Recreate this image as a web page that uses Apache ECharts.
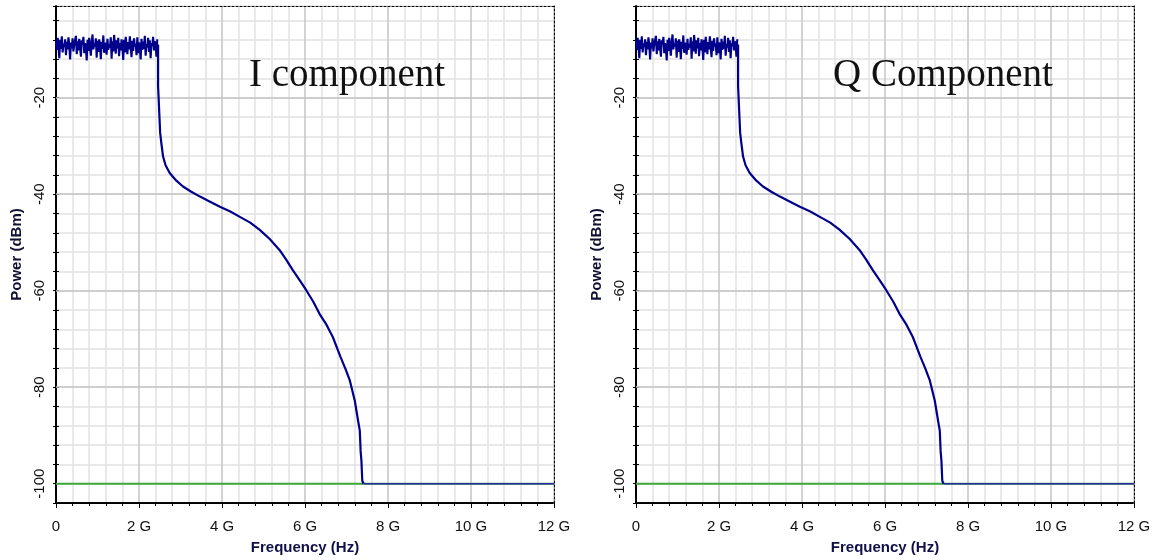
<!DOCTYPE html>
<html>
<head>
<meta charset="utf-8">
<script src="https://cdn.jsdelivr.net/npm/echarts@6/dist/echarts.min.js"></script>
<style>
html,body{margin:0;padding:0;background:#fff;}
#chart{width:1155px;height:560px;}
</style>
</head>
<body>
<div id="chart"></div>
<script>
// ---------- data ----------
const panelTitles = ['I component', 'Q Component'];
const xAxisName = 'Frequency (Hz)';
const yAxisName = 'Power (dBm)';
const xMinG = 0, xMaxG = 12, xMajorStepG = 2;
const yMin = -104, yMax = -1, yStep = 4;
const yLabelValues = [-100, -80, -60, -40, -20];
const floorLevel = -100;

// in-band noise (GHz sample grid start/step, then power values in dBm)
const noiseStartG = 0;
const noiseStepG = 0.02;
const noiseValues = [
  -8.2,-10.1,-7.6,-9.4,-11.8,-8.0,-9.9,-7.3,-10.6,-8.8,
  -9.5,-7.9,-11.2,-8.4,-10.0,-7.5,-9.1,-12.1,-8.6,-9.8,
  -7.7,-10.4,-8.9,-9.3,-7.2,-11.0,-8.3,-10.2,-7.8,-9.6,
  -11.5,-8.1,-9.0,-7.4,-10.8,-8.7,-9.7,-12.3,-8.0,-10.3,
  -7.6,-9.2,-11.3,-8.5,-6.9,-10.0,-8.8,-9.4,-7.7,-11.7,
  -8.2,-10.5,-7.9,-9.1,-12.0,-8.4,-9.9,-7.1,-10.7,-8.6,
  -9.3,-11.1,-7.8,-10.1,-8.9,-9.6,-7.5,-11.9,-8.3,-10.4,
  -7.0,-9.0,-10.9,-8.1,-9.8,-7.6,-11.4,-8.7,-10.2,-7.9,
  -9.5,-12.2,-8.0,-10.6,-7.4,-9.2,-11.0,-8.5,-10.0,-7.3,
  -9.7,-11.6,-8.2,-10.3,-7.7,-9.4,-8.8,-11.2,-7.5,-10.8,
  -8.6,-9.1,-12.1,-7.8,-10.1,-8.4,-9.9,-7.2,-11.3,-8.9,
  -9.6,-7.6,-10.5,-8.1,-11.8,-8.7,-9.3,-7.4,-10.2,-8.3,
  -9.0,-11.5,-7.9
];

// roll-off after the band edge
const rolloffFreqG = [2.46, 2.46, 2.50, 2.51, 2.54, 2.58, 2.64, 2.74, 2.90, 3.06, 3.26, 3.47, 3.70, 3.95, 4.20, 4.43, 4.68, 4.91, 5.15, 5.39, 5.55, 5.71, 5.87, 6.03, 6.20, 6.35, 6.52, 6.67, 6.85, 6.97, 7.08, 7.20, 7.28, 7.32, 7.34, 7.36, 7.38, 7.41];
const rolloffPower = [-9.0, -17.6, -17.8, -27.3, -29.5, -32.2, -34.0, -35.6, -37.2, -38.4, -39.5, -40.5, -41.5, -42.6, -43.6, -44.7, -45.9, -47.4, -49.3, -51.6, -53.6, -55.8, -57.8, -59.9, -62.3, -64.8, -67.1, -69.6, -73.6, -76.1, -78.6, -82.8, -87.0, -89.0, -93.2, -95.3, -99.4, -100.0];

// flat floor of the spectrum after roll-off
const tailFreqG = [7.41, 12.0];
const tailPower = [-100.0, -100.0];

// ---------- build ----------
const noisePart = noiseValues.map((v, i) => [+(noiseStartG + i * noiseStepG).toFixed(3), v]);
const rolloffPart = rolloffFreqG.map((f, i) => [f, rolloffPower[i]]);
const tailPart = tailFreqG.map((f, i) => [f, tailPower[i]]);
const floorLine = [[xMinG, floorLevel], [xMaxG, floorLevel]];

const gridLefts = [56, 636];
const FONT = 'Liberation Sans, Arial, sans-serif';
const grids = [], xAxes = [], yAxes = [], series = [], graphics = [];

gridLefts.forEach((left, p) => {
  grids.push({left: left, width: 498, top: 6, height: 497, containLabel: false});
  xAxes.push({
    type: 'value', gridIndex: p, min: xMinG, max: xMaxG, interval: xMajorStepG,
    position: 'bottom',
    axisLine: {show: true, lineStyle: {color: '#000', type: [1, 1], width: 2}},
    axisTick: {show: true, length: 5, lineStyle: {color: '#000', width: 1}},
    minorTick: {show: true, splitNumber: 5, length: 3, lineStyle: {color: '#000', width: 1}},
    splitLine: {show: true, lineStyle: {color: '#c4c4c4', width: 1.5}},
    minorSplitLine: {show: true, lineStyle: {color: '#e2e2e2', width: 1.5}},
    axisLabel: {
      fontSize: 15, color: '#111', fontFamily: FONT, margin: 16,
      formatter: v => v === 0 ? '0' : v + ' G'
    },
    name: xAxisName, nameLocation: 'middle', nameGap: 37,
    nameTextStyle: {fontSize: 15, fontWeight: 'bold', color: '#101048', fontFamily: FONT}
  });
  xAxes.push({
    type: 'value', gridIndex: p, min: xMinG, max: xMaxG, position: 'top',
    axisLine: {show: true, lineStyle: {color: '#000', type: [2, 2], width: 1}},
    axisTick: {show: false}, axisLabel: {show: false}, splitLine: {show: false}
  });
  yAxes.push({
    type: 'value', gridIndex: p, min: yMin, max: yMax, interval: yStep, position: 'left',
    axisLine: {show: true, lineStyle: {color: '#000', width: 2}},
    axisTick: {show: true, length: 3, lineStyle: {color: '#000'}},
    splitLine: {show: true, lineStyle: {color: '#e2e2e2', width: 1.5}},
    axisLabel: {
      rotate: 90, fontSize: 15, color: '#111', fontFamily: FONT, margin: 9,
      formatter: v => yLabelValues.indexOf(Math.round(v)) >= 0 && Math.abs(v - Math.round(v)) < 1e-6 ? String(Math.round(v)) : ''
    },
    name: yAxisName, nameLocation: 'middle', nameGap: 32, nameRotate: 90,
    nameTextStyle: {fontSize: 15, fontWeight: 'bold', color: '#101030', fontFamily: FONT}
  });
  yAxes.push({
    type: 'value', gridIndex: p, min: yMin, max: yMax, interval: yStep, position: 'left',
    axisLine: {show: false},
    axisTick: {show: true, inside: true, length: 3, lineStyle: {color: '#000'}},
    splitLine: {show: false}, axisLabel: {show: false}
  });
  yAxes.push({
    type: 'value', gridIndex: p, min: yMin, max: yMax, position: 'right',
    axisLine: {show: true, lineStyle: {color: '#000', type: [2, 2], width: 1}},
    axisTick: {show: false}, axisLabel: {show: false}, splitLine: {show: false}
  });

  series.push({
    type: 'line', xAxisIndex: p * 2, yAxisIndex: p * 3, data: floorLine, z: 1,
    showSymbol: false, silent: true, animation: false,
    lineStyle: {color: '#3aa83a', width: 2},
    markLine: {
      silent: true, symbol: 'none', animation: false, label: {show: false},
      lineStyle: {color: '#c4c4c4', width: 1.5, type: 'solid'},
      data: yLabelValues.filter(v => v !== floorLevel).map(v => ({yAxis: v}))
    }
  });
  series.push({
    type: 'line', xAxisIndex: p * 2, yAxisIndex: p * 3, data: noisePart, z: 6,
    showSymbol: false, silent: true, animation: false,
    lineStyle: {color: '#00008c', width: 2.1}
  });
  series.push({
    type: 'line', xAxisIndex: p * 2, yAxisIndex: p * 3, data: rolloffPart, z: 6,
    showSymbol: false, silent: true, animation: false,
    lineStyle: {color: '#00008c', width: 2.2}
  });
  series.push({
    type: 'line', xAxisIndex: p * 2, yAxisIndex: p * 3, data: tailPart, z: 6,
    showSymbol: false, silent: true, animation: false,
    lineStyle: {color: '#2a2aa8', width: 1.4}
  });

  graphics.push({
    type: 'text', x: [249, 833][p], y: 76, z: 10,
    style: {text: panelTitles[p], fontSize: 39, fontFamily: '"Liberation Serif", "Times New Roman", serif',
            fill: '#111', stroke: null, lineWidth: 0, verticalAlign: 'middle'}
  });
});

const chart = echarts.init(document.getElementById('chart'), null, {renderer: 'canvas'});
chart.setOption({
  animation: false,
  backgroundColor: '#fff',
  grid: grids, xAxis: xAxes, yAxis: yAxes, series: series, graphic: graphics
});
</script>
</body>
</html>
